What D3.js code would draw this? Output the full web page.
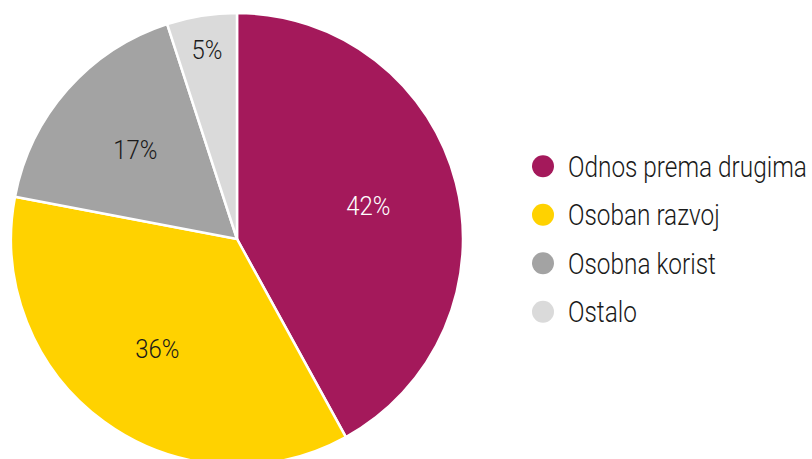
<!DOCTYPE html>
<html>
<head>
<meta charset="utf-8">
<script src="https://cdn.jsdelivr.net/npm/d3@7"></script>
<style>
  body { margin: 0; background: #fff; }
  text { font-family: Roboto, "DejaVu Sans", sans-serif; font-weight: 300; }
</style>
</head>
<body>
<div id="chart"></div>
<script>
// chart data
const categories = ["Odnos prema drugima", "Osoban razvoj", "Osobna korist", "Ostalo"];
const shares = [42, 36, 17, 5];
const colors = ["#A4195B", "#FFD200", "#A3A3A3", "#DADADA"];
const labelColors = ["#ffffff", "#1a1a1a", "#1a1a1a", "#1a1a1a"];

const width = 812;
const height = 459;
const radius = 226;
const cx = 237, cy = 239;

const svg = d3.select("#chart")
    .append("svg")
    .attr("width", width)
    .attr("height", height);

const pie = d3.pie()
    .sort(null)
    .value(d => d);

const arc = d3.arc()
    .innerRadius(0)
    .outerRadius(radius);

// labels sit around 60% of the radius, small slices further out
const labelArc = d3.arc().innerRadius(radius * 0.6).outerRadius(radius * 0.6);
const outerLabelArc = d3.arc().innerRadius(radius * 0.85).outerRadius(radius * 0.85);

const pieData = pie(shares);

const g = svg.append("g")
    .attr("transform", `translate(${cx}, ${cy})`);

g.selectAll(".slice")
    .data(pieData)
    .enter()
    .append("path")
    .attr("class", "slice")
    .attr("d", arc)
    .attr("fill", (d, i) => colors[i])
    .attr("stroke", "#fff")
    .attr("stroke-width", 2.5);

g.selectAll(".label")
    .data(pieData)
    .enter()
    .append("text")
    .attr("class", "label")
    .attr("transform", d => {
        const c = (d.data < 10 ? outerLabelArc : labelArc).centroid(d);
        return `translate(${c[0]}, ${c[1]}) scale(0.92, 1)`;
    })
    .attr("text-anchor", "middle")
    .attr("dy", "0.36em")
    .attr("font-size", 26)
    .attr("fill", (d, i) => labelColors[i])
    .text(d => `${d.data}%`);

// legend
const legendY = d3.scaleBand()
    .domain(categories)
    .range([142, 336]);

const legend = svg.selectAll(".legend-item")
    .data(categories)
    .enter()
    .append("g")
    .attr("class", "legend-item")
    .attr("transform", d => `translate(543, ${legendY(d) + legendY.bandwidth() / 2})`);

legend.append("circle")
    .attr("r", 11)
    .attr("fill", (d, i) => colors[i]);

const legendText = legend.append("text")
    .attr("transform", "translate(25, 0)")
    .attr("dy", "0.36em")
    .attr("font-size", 29)
    .attr("fill", "#1a1a1a")
    .text(d => d);

// the original face is a narrow DIN-like font: squeeze so the longest entry spans ~239px
const longest = d3.max(legendText.nodes(), n => n.getComputedTextLength());
const fit = 239 / longest;
legendText.attr("transform", `translate(25, 0) scale(${fit}, 1)`);
</script>
</body>
</html>
